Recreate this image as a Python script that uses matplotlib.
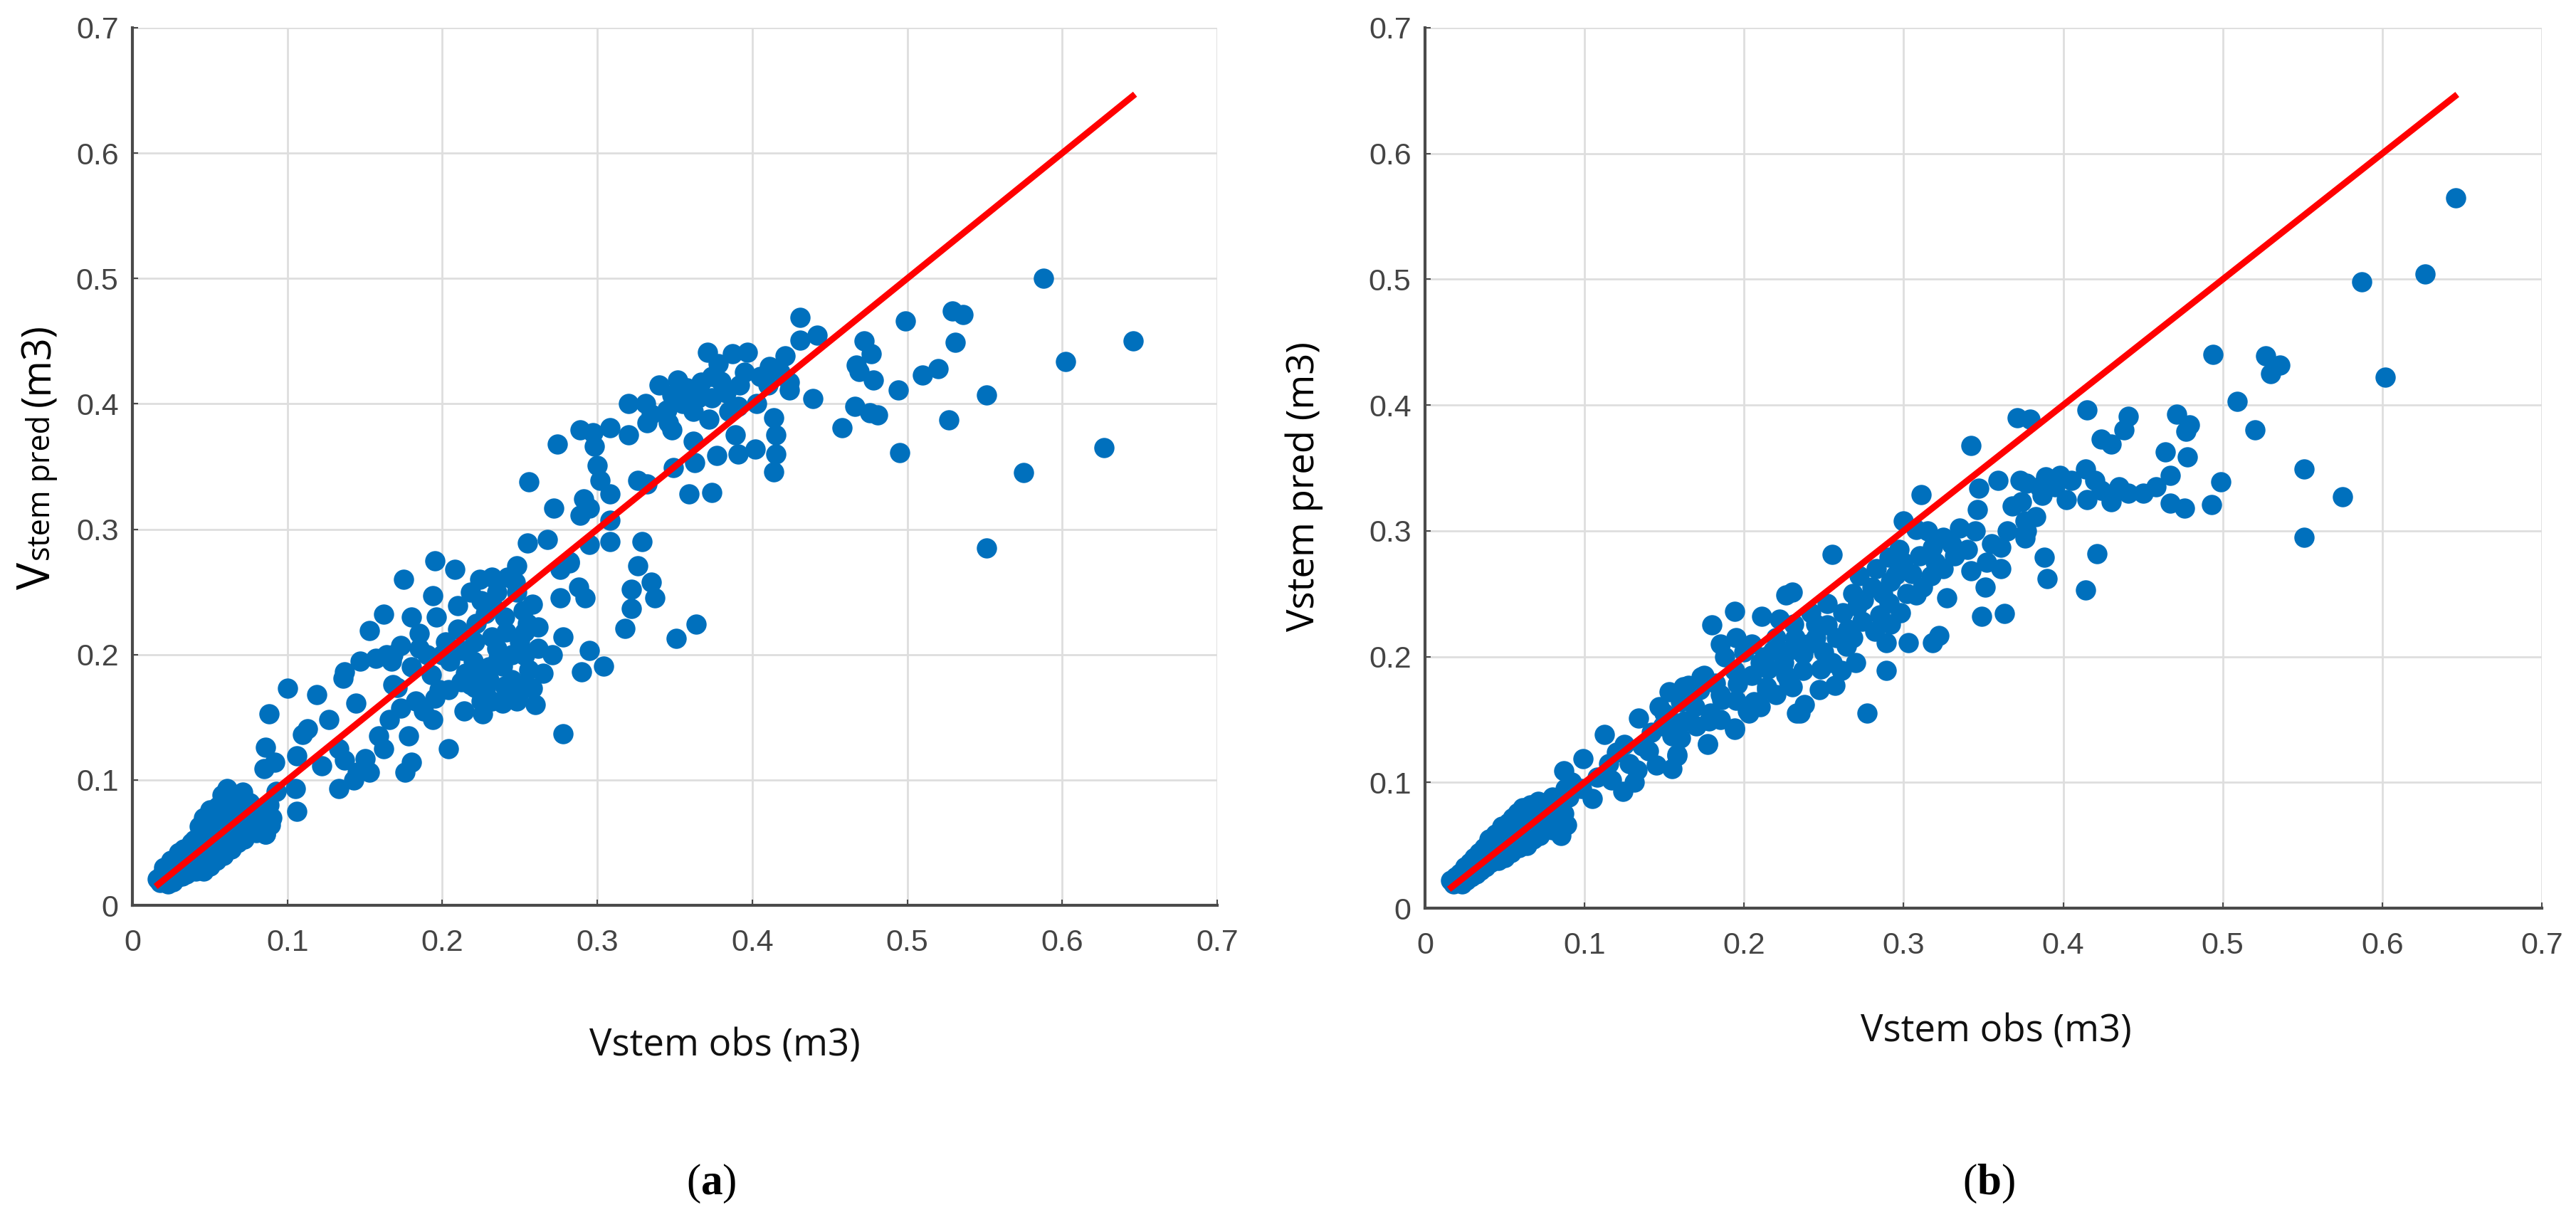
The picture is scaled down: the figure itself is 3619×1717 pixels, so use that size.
import numpy as np
import matplotlib
matplotlib.use('Agg')
import matplotlib.pyplot as plt

panel_a_points = [
    # dense cloud of small stems
    (0.016, 0.021), (0.018, 0.018), (0.019, 0.024), (0.021, 0.020), (0.022, 0.027), (0.023, 0.017),
    (0.024, 0.023), (0.025, 0.030), (0.026, 0.019), (0.027, 0.026), (0.028, 0.033), (0.029, 0.022),
    (0.030, 0.028), (0.031, 0.037), (0.032, 0.023), (0.033, 0.031), (0.034, 0.041), (0.035, 0.025),
    (0.036, 0.034), (0.037, 0.046), (0.038, 0.029), (0.039, 0.038), (0.040, 0.052), (0.041, 0.027),
    (0.042, 0.043), (0.043, 0.033), (0.044, 0.058), (0.045, 0.047), (0.046, 0.027), (0.047, 0.039),
    (0.048, 0.066), (0.049, 0.052), (0.050, 0.031), (0.051, 0.044), (0.052, 0.072), (0.053, 0.058),
    (0.054, 0.036), (0.055, 0.079), (0.056, 0.049), (0.057, 0.064), (0.058, 0.088), (0.059, 0.040),
    (0.060, 0.070), (0.061, 0.093), (0.062, 0.055), (0.063, 0.083), (0.064, 0.045), (0.065, 0.075),
    (0.066, 0.088), (0.067, 0.060), (0.068, 0.050), (0.069, 0.081), (0.070, 0.068), (0.071, 0.090),
    (0.072, 0.053), (0.073, 0.073), (0.075, 0.062), (0.076, 0.082), (0.078, 0.070), (0.080, 0.058),
    (0.082, 0.076), (0.084, 0.067), (0.086, 0.057), (0.087, 0.072), (0.089, 0.064), (0.055, 0.060),
    (0.045, 0.040), (0.035, 0.030), (0.065, 0.065), (0.046, 0.070), (0.050, 0.076), (0.030, 0.042),
    (0.020, 0.030), (0.025, 0.036), (0.033, 0.045), (0.038, 0.050), (0.043, 0.063), (0.050, 0.064),
    (0.054, 0.068), (0.060, 0.080), (0.066, 0.072), (0.070, 0.080), (0.074, 0.078), (0.078, 0.062),
    (0.082, 0.068), (0.088, 0.080), (0.090, 0.070), (0.062, 0.062), (0.058, 0.052), (0.048, 0.045),
    # 0.08 - 0.24
    (0.100, 0.173), (0.119, 0.168), (0.136, 0.181), (0.088, 0.153), (0.113, 0.141), (0.127, 0.148),
    (0.144, 0.161), (0.171, 0.174), (0.110, 0.136), (0.086, 0.126), (0.085, 0.109), (0.092, 0.114),
    (0.106, 0.119), (0.122, 0.111), (0.133, 0.125), (0.145, 0.106), (0.153, 0.106), (0.150, 0.117),
    (0.159, 0.135), (0.178, 0.135), (0.180, 0.114), (0.176, 0.106), (0.204, 0.125), (0.194, 0.148),
    (0.214, 0.155), (0.226, 0.153), (0.133, 0.093), (0.143, 0.100), (0.106, 0.075), (0.105, 0.093),
    (0.093, 0.091), (0.087, 0.068), (0.086, 0.057), (0.162, 0.125), (0.183, 0.163), (0.198, 0.172),
    (0.221, 0.174), (0.232, 0.163), (0.166, 0.148), (0.137, 0.116),
    (0.137, 0.186), (0.147, 0.195), (0.157, 0.197), (0.164, 0.200), (0.153, 0.219), (0.162, 0.232),
    # 0.17 - 0.36
    (0.272, 0.317), (0.295, 0.317), (0.318, 0.221), (0.351, 0.213), (0.364, 0.224), (0.322, 0.237),
    (0.255, 0.289), (0.268, 0.292), (0.248, 0.271), (0.247, 0.258), (0.276, 0.268), (0.282, 0.273),
    (0.276, 0.245), (0.278, 0.214), (0.271, 0.200), (0.295, 0.203), (0.304, 0.191), (0.290, 0.186),
    (0.278, 0.137), (0.195, 0.275), (0.208, 0.268), (0.175, 0.260), (0.224, 0.260), (0.232, 0.262),
    (0.194, 0.247), (0.210, 0.239), (0.180, 0.230), (0.185, 0.217), (0.196, 0.230), (0.202, 0.210),
    (0.225, 0.243), (0.228, 0.233), (0.252, 0.235), (0.262, 0.222), (0.253, 0.218), (0.241, 0.218),
    (0.232, 0.214), (0.221, 0.210), (0.213, 0.203), (0.205, 0.195), (0.193, 0.184), (0.173, 0.157),
    (0.167, 0.195), (0.180, 0.190), (0.168, 0.176), (0.225, 0.188), (0.218, 0.176), (0.204, 0.172),
    (0.228, 0.172), (0.225, 0.163), (0.239, 0.161), (0.248, 0.163), (0.253, 0.176), (0.256, 0.188),
    (0.253, 0.199), (0.239, 0.191), (0.258, 0.173), (0.236, 0.197), (0.173, 0.207), (0.168, 0.200),
    (0.256, 0.338), (0.274, 0.368),
    (0.205, 0.205), (0.210, 0.220), (0.215, 0.185), (0.220, 0.195), (0.222, 0.225), (0.230, 0.190),
    (0.235, 0.205), (0.240, 0.230), (0.245, 0.200), (0.245, 0.180), (0.250, 0.210), (0.255, 0.225),
    (0.258, 0.240), (0.262, 0.205), (0.265, 0.185), (0.232, 0.240), (0.218, 0.250), (0.200, 0.200),
    (0.190, 0.200), (0.185, 0.205), (0.260, 0.160), (0.250, 0.170), (0.240, 0.175), (0.230, 0.180),
    (0.212, 0.178), (0.195, 0.165), (0.188, 0.155), (0.235, 0.250), (0.248, 0.250), (0.242, 0.262),
    # 0.28 - 0.47
    (0.431, 0.469), (0.431, 0.451), (0.442, 0.455), (0.421, 0.438), (0.424, 0.417), (0.424, 0.411),
    (0.439, 0.404), (0.397, 0.441), (0.411, 0.430), (0.405, 0.422), (0.403, 0.400), (0.414, 0.389),
    (0.415, 0.375), (0.415, 0.360), (0.414, 0.346), (0.402, 0.364), (0.389, 0.375), (0.391, 0.360),
    (0.377, 0.359), (0.371, 0.441), (0.378, 0.432), (0.374, 0.422), (0.367, 0.417), (0.358, 0.413),
    (0.352, 0.419), (0.340, 0.415), (0.348, 0.407), (0.374, 0.405), (0.392, 0.415), (0.383, 0.409),
    (0.320, 0.400), (0.331, 0.400), (0.335, 0.392), (0.332, 0.385), (0.346, 0.385), (0.348, 0.379),
    (0.362, 0.394), (0.372, 0.388), (0.385, 0.394), (0.391, 0.398), (0.362, 0.370), (0.363, 0.353),
    (0.349, 0.349), (0.359, 0.328), (0.374, 0.329), (0.326, 0.339), (0.332, 0.336), (0.289, 0.379),
    (0.297, 0.377), (0.308, 0.381), (0.320, 0.375), (0.298, 0.366), (0.300, 0.351), (0.302, 0.339),
    (0.291, 0.324), (0.308, 0.328), (0.289, 0.311), (0.308, 0.307), (0.295, 0.288), (0.308, 0.290),
    (0.329, 0.290), (0.326, 0.271), (0.322, 0.252), (0.335, 0.258), (0.337, 0.245), (0.288, 0.254),
    (0.292, 0.245), (0.282, 0.274),
    (0.355, 0.400), (0.365, 0.405), (0.380, 0.418), (0.395, 0.425), (0.345, 0.395), (0.387, 0.440),
    (0.410, 0.415), (0.418, 0.425),
    # large stems
    (0.588, 0.500), (0.499, 0.466), (0.529, 0.474), (0.536, 0.471), (0.531, 0.449), (0.646, 0.450),
    (0.602, 0.434), (0.472, 0.450), (0.477, 0.440), (0.467, 0.431), (0.469, 0.426), (0.478, 0.419),
    (0.494, 0.411), (0.510, 0.423), (0.520, 0.428), (0.551, 0.407), (0.466, 0.398), (0.476, 0.393),
    (0.481, 0.391), (0.458, 0.381), (0.527, 0.387), (0.495, 0.361), (0.627, 0.365), (0.575, 0.345),
    (0.551, 0.285),
]

panel_b_points = [
    # dense cloud of small stems
    (0.016, 0.022), (0.018, 0.019), (0.019, 0.025), (0.021, 0.021), (0.022, 0.028), (0.023, 0.019),
    (0.024, 0.026), (0.025, 0.033), (0.026, 0.022), (0.027, 0.030), (0.028, 0.036), (0.029, 0.025),
    (0.030, 0.032), (0.031, 0.040), (0.032, 0.027), (0.033, 0.036), (0.034, 0.044), (0.035, 0.030),
    (0.036, 0.039), (0.037, 0.048), (0.038, 0.033), (0.039, 0.042), (0.040, 0.055), (0.041, 0.036),
    (0.042, 0.047), (0.043, 0.040), (0.044, 0.059), (0.045, 0.050), (0.046, 0.038), (0.047, 0.045),
    (0.048, 0.065), (0.049, 0.054), (0.050, 0.040), (0.051, 0.048), (0.052, 0.068), (0.053, 0.058),
    (0.054, 0.044), (0.055, 0.072), (0.056, 0.052), (0.057, 0.063), (0.058, 0.076), (0.059, 0.048),
    (0.060, 0.067), (0.061, 0.080), (0.062, 0.055), (0.063, 0.073), (0.064, 0.050), (0.065, 0.070),
    (0.066, 0.082), (0.067, 0.060), (0.068, 0.055), (0.069, 0.076), (0.070, 0.066), (0.071, 0.085),
    (0.072, 0.058), (0.073, 0.072), (0.075, 0.064), (0.076, 0.080), (0.078, 0.070), (0.080, 0.062),
    (0.082, 0.078), (0.084, 0.068), (0.085, 0.058), (0.087, 0.075), (0.089, 0.066), (0.090, 0.088),
    (0.088, 0.095), (0.080, 0.088), (0.092, 0.100), (0.098, 0.095),
    # 0.08 - 0.24
    (0.1125, 0.138), (0.099, 0.119), (0.087, 0.109), (0.134, 0.151), (0.147, 0.160), (0.153, 0.172),
    (0.162, 0.176), (0.173, 0.184), (0.120, 0.124), (0.105, 0.087), (0.124, 0.093), (0.131, 0.100),
    (0.117, 0.102), (0.145, 0.114), (0.158, 0.122), (0.155, 0.137), (0.177, 0.131), (0.178, 0.149),
    (0.194, 0.143), (0.202, 0.157), (0.196, 0.178), (0.233, 0.155), (0.214, 0.176), (0.230, 0.176),
    (0.163, 0.149), (0.149, 0.145), (0.136, 0.129), (0.133, 0.110), (0.108, 0.104), (0.169, 0.160),
    (0.186, 0.166),
    (0.150, 0.155), (0.142, 0.140), (0.125, 0.130), (0.115, 0.115), (0.128, 0.115), (0.140, 0.125),
    (0.160, 0.135), (0.170, 0.145), (0.185, 0.150), (0.195, 0.165), (0.210, 0.160), (0.220, 0.170),
    (0.228, 0.180), (0.168, 0.170), (0.175, 0.185),
    # 0.15 - 0.42
    (0.311, 0.329), (0.300, 0.308), (0.308, 0.301), (0.255, 0.281), (0.347, 0.334), (0.346, 0.317),
    (0.359, 0.340), (0.373, 0.340), (0.374, 0.323), (0.376, 0.308), (0.376, 0.294), (0.390, 0.262),
    (0.414, 0.253), (0.361, 0.287), (0.361, 0.270), (0.351, 0.255), (0.342, 0.268), (0.335, 0.302),
    (0.330, 0.289), (0.318, 0.287), (0.325, 0.270), (0.327, 0.247), (0.308, 0.249), (0.305, 0.266),
    (0.291, 0.279), (0.292, 0.260), (0.349, 0.232), (0.363, 0.234), (0.317, 0.264), (0.272, 0.264),
    (0.271, 0.240), (0.274, 0.228), (0.291, 0.243), (0.292, 0.226), (0.289, 0.211), (0.303, 0.211),
    (0.318, 0.211), (0.322, 0.217), (0.289, 0.189), (0.277, 0.155), (0.226, 0.249), (0.230, 0.251),
    (0.194, 0.236), (0.180, 0.225), (0.211, 0.232), (0.252, 0.242), (0.245, 0.226), (0.231, 0.226),
    (0.220, 0.215), (0.200, 0.204), (0.194, 0.189), (0.213, 0.200), (0.237, 0.202), (0.250, 0.204),
    (0.264, 0.208), (0.261, 0.189), (0.257, 0.177), (0.247, 0.174), (0.237, 0.189), (0.226, 0.185),
    (0.214, 0.174), (0.206, 0.164), (0.235, 0.155), (0.238, 0.162), (0.203, 0.155), (0.194, 0.142),
    (0.177, 0.130), (0.179, 0.155), (0.172, 0.174), (0.160, 0.164), (0.158, 0.147), (0.158, 0.121),
    (0.155, 0.111), (0.165, 0.177), (0.182, 0.179), (0.215, 0.190), (0.245, 0.215), (0.255, 0.195),
    (0.268, 0.250), (0.283, 0.270), (0.297, 0.285), (0.315, 0.300), (0.285, 0.233), (0.265, 0.222),
    (0.205, 0.185), (0.185, 0.170), (0.228, 0.205), (0.342, 0.368), (0.371, 0.390),
    (0.205, 0.210), (0.210, 0.195), (0.218, 0.205), (0.222, 0.230), (0.225, 0.195), (0.232, 0.215),
    (0.240, 0.210), (0.242, 0.235), (0.248, 0.190), (0.252, 0.225), (0.258, 0.215), (0.262, 0.235),
    (0.268, 0.215), (0.270, 0.195), (0.275, 0.245), (0.280, 0.255), (0.282, 0.220), (0.287, 0.250),
    (0.295, 0.265), (0.298, 0.235), (0.300, 0.275), (0.302, 0.250), (0.310, 0.280), (0.312, 0.255),
    (0.320, 0.275), (0.325, 0.295), (0.332, 0.280), (0.340, 0.285), (0.345, 0.300), (0.352, 0.275),
    (0.355, 0.290), (0.365, 0.300), (0.368, 0.320), (0.385, 0.335), (0.395, 0.335), (0.405, 0.340),
    (0.420, 0.340), (0.435, 0.335), (0.450, 0.330), (0.188, 0.200), (0.195, 0.215), (0.185, 0.210),
    # large stems
    (0.646, 0.565), (0.627, 0.504), (0.587, 0.498), (0.602, 0.422), (0.494, 0.440), (0.527, 0.439),
    (0.536, 0.432), (0.530, 0.425), (0.509, 0.403), (0.520, 0.380), (0.551, 0.349), (0.575, 0.327),
    (0.551, 0.295), (0.499, 0.339), (0.493, 0.321), (0.415, 0.396), (0.441, 0.391), (0.438, 0.380),
    (0.424, 0.373), (0.430, 0.369), (0.471, 0.393), (0.479, 0.384), (0.477, 0.379), (0.464, 0.363),
    (0.478, 0.359), (0.467, 0.344), (0.458, 0.335), (0.467, 0.322), (0.476, 0.318), (0.441, 0.330),
    (0.430, 0.323), (0.424, 0.332), (0.414, 0.349), (0.402, 0.325), (0.415, 0.325), (0.389, 0.343),
    (0.387, 0.328), (0.398, 0.344), (0.379, 0.389), (0.377, 0.338), (0.383, 0.311), (0.377, 0.300),
    (0.388, 0.279), (0.421, 0.282),
]

# 1:1 line drawn over the observed range
fit_line = [0.015, 0.647]

tick_values = [0, 0.1, 0.2, 0.3, 0.4, 0.5, 0.6, 0.7]
tick_labels = ['0', '0.1', '0.2', '0.3', '0.4', '0.5', '0.6', '0.7']
x_label = 'Vstem obs (m3)'
y_label_a = [('V', 46), ('stem pred', 31), ('(m3)', 40)]
y_label_b = 'Vstem pred (m3)'

W, H = 3619, 1717
plt.rcParams['mathtext.fontset'] = 'custom'
plt.rcParams['mathtext.rm'] = 'Liberation Serif'
plt.rcParams['mathtext.bf'] = 'Liberation Serif:bold'

fig = plt.figure(figsize=(W / 100, H / 100), dpi=100)

panels = {
    'a': {'points': panel_a_points, 'box': (186, 39, 1710, 1272), 'xlab': (1018, 1470), 'tag': (999, 1663)},
    'b': {'points': panel_b_points, 'box': (2002, 39, 3571, 1276), 'xlab': (2804, 1450), 'tag': (2794, 1663)},
}

for tag, p in panels.items():
    x0, y0, x1, y1 = p['box']
    ax = fig.add_axes([x0 / W, 1 - y1 / H, (x1 - x0) / W, (y1 - y0) / H])
    pts = np.array(p['points'])
    ax.scatter(pts[:, 0], pts[:, 1], s=420, color='#0070BD', linewidths=0, zorder=2)
    ax.plot(fit_line, fit_line, color='#FF0000', lw=6.5, zorder=3, solid_capstyle='butt')
    ax.set_xlim(0, 0.7)
    ax.set_ylim(0, 0.7)
    ax.set_xticks(tick_values)
    ax.set_xticklabels(tick_labels)
    ax.set_yticks(tick_values)
    ax.set_yticklabels(tick_labels)
    ax.set_axisbelow(True)
    ax.grid(True, color='#dedede', linewidth=2)
    for side in ['top', 'right']:
        ax.spines[side].set_visible(False)
    for side in ['left', 'bottom']:
        ax.spines[side].set_color('#4a4a4a')
        ax.spines[side].set_linewidth(3)
    ax.tick_params(direction='in', length=6, width=1.5, color='#4a4a4a',
                   labelcolor='#444444', labelsize=31)
    ax.tick_params(axis='x', pad=24)
    ax.tick_params(axis='y', pad=14)
    for lab in ax.get_xticklabels() + ax.get_yticklabels():
        lab.set_family('Liberation Sans')

    fig.text(p['xlab'][0] / W, 1 - p['xlab'][1] / H, x_label, ha='center', va='center',
             fontsize=38, family='Open Sans', color='#111111')
    fig.text(p['tag'][0] / W, 1 - p['tag'][1] / H, r'($\mathbf{%s}$)' % tag, ha='center', va='center',
             fontsize=44, family='Liberation Serif', color='black')

# left y label: large V, smaller "stem pred", then "(m3)"
renderer = fig.canvas.get_renderer()
y_px = H - 828
for i, (text, size) in enumerate(y_label_a):
    t = fig.text(70 / W, y_px / H, text, rotation=90, rotation_mode='anchor', ha='left',
                 va='baseline', fontsize=size, family='Open Sans', color='black')
    y_px = t.get_window_extent(renderer).y1 + (12 if i == 1 else 2)

fig.text(1832 / W, 1 - 683 / H, y_label_b, rotation=90, ha='center', va='center',
         fontsize=38, family='Open Sans', color='black')

fig.savefig('out.png', dpi=100)
